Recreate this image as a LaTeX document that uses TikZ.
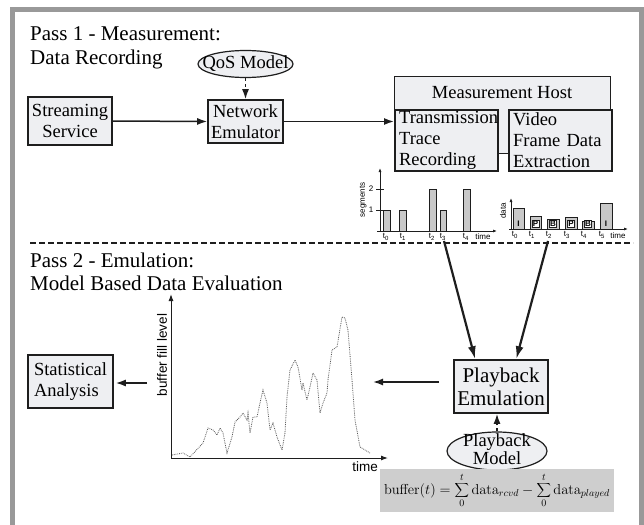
\documentclass[tikz,border=0pt]{standalone}
\usepackage[no-math]{fontspec}
\setmainfont{Liberation Serif}
\setsansfont{Liberation Sans}
\usetikzlibrary{arrows.meta,shapes.geometric,calc}
\definecolor{boxfill}{RGB}{238,239,242}
\definecolor{framegray}{RGB}{153,153,153}
\definecolor{bargray}{RGB}{200,200,200}
\definecolor{fgray}{RGB}{206,206,206}
\definecolor{ink}{RGB}{30,30,30}
\definecolor{curvegray}{RGB}{90,90,90}
\begin{document}
\begin{tikzpicture}[x=1pt,y=-1pt,
  box/.style={draw=ink, line width=1.6pt, fill=boxfill, align=center, inner sep=0pt},
  innerbox/.style={draw=ink, line width=2.2pt, fill=boxfill, align=left, inner xsep=4pt, inner ysep=0pt, text width=95pt, minimum width=103pt, minimum height=61pt, anchor=north west},
  ellbox/.style={ellipse, draw=ink, line width=1.2pt, fill=boxfill, inner sep=0pt},
  arr/.style={-{Latex[length=10pt,width=7pt]}, line width=1.5pt, draw=ink},
  darr/.style={arr, dashed},
  bigarr/.style={-{Latex[length=13pt,width=8pt]}, line width=2.2pt, draw=ink},
  mid/.style={font=\fontsize{18.5}{21}\selectfont},
  big/.style={font=\fontsize{21}{23}\selectfont},
  title/.style={font=\fontsize{21}{24}\selectfont, anchor=base west, inner sep=0pt},
  small/.style={font=\sffamily\fontsize{8}{8}\selectfont, inner sep=0pt},
  axlbl/.style={font=\sffamily\fontsize{13.5}{14}\selectfont, inner sep=0pt},
  bar/.style={draw=ink, line width=0.8pt, fill=bargray},
  axis/.style={draw=ink, line width=0.8pt, -{Latex[length=4pt,width=3pt]}},
  ltr/.style={font=\sffamily\bfseries\fontsize{8}{8}\selectfont, inner sep=0.8pt},
  ltrbox/.style={ltr, draw=ink, line width=0.5pt, fill=white},
]
\useasboundingbox (0,0) rectangle (644,524);
\fill[white] (0,0) rectangle (644,524);
% frame
\draw[framegray, line width=5pt] (12.5,540) -- (12.5,9.5) -- (641.5,9.5) -- (641.5,540);

% titles
\node[title] (t1a) at (30,41) {Pass 1 - Measurement:};
\node[title] (t1b) at (30,65) {Data Recording};
\node[title] (t2a) at (30,267) {Pass 2 - Emulation:};
\node[title] (t2b) at (30,290) {Model Based Data Evaluation};

% pass 1 nodes
\node[box, mid, minimum width=84pt, minimum height=48pt] (ss) at (70,121) {Streaming\\Service};
\node[box, mid, minimum width=75pt, minimum height=43pt] (ne) at (245.5,121.5) {Network\\Emulator};
\node[ellbox, minimum width=95pt, minimum height=27pt] (qos) at (245.5,64) {};
\node[mid, inner sep=0pt] (qost) at (245.5,64) {QoS Model};

\node[draw=ink, line width=0.8pt, fill=boxfill, minimum width=216pt, minimum height=77pt, anchor=north west, inner sep=0pt] (mh) at (394,76) {};
\node[mid, inner sep=0pt] (mhl) at (502,93) {Measurement Host};
\node[innerbox, mid] (tb) at (394,109) {Transmission\\Trace\\Recording};
\node[innerbox, mid] (vb) at (508,109) {Video\\Frame Data\\Extraction};

\draw[arr] (ss.east) -- (ne.west);
\draw[arr] (ne.east) -- (tb.west |- ne.east);
\draw[darr] (qos.south) -- (ne.north);

% segments chart
\draw[axis] (380,231) -- (380,168);
\draw[axis] (377,231) -- (497,231);
\draw[ink, line width=0.8pt] (376,210) -- (384,210) (376,189) -- (384,189);
\node[small] (s1) at (371,210) {1};
\node[small] (s2) at (371,189) {2};
\node[small, rotate=90] (sl) at (363,200) {segments};
\draw[bar] (383,231) rectangle (390,210);
\draw[bar] (399,231) rectangle (406,210);
\draw[bar] (429,231) rectangle (436,189);
\draw[bar] (440,231) rectangle (446,210);
\draw[bar] (463,231) rectangle (470,189);
\node[small] (st0) at (386,237) {t\textsubscript{0}};
\node[small] (st1) at (403,237) {t\textsubscript{1}};
\node[small] (st2) at (432,237) {t\textsubscript{2}};
\node[small] (st3) at (443,237) {t\textsubscript{3}};
\node[small] (st4) at (466,237) {t\textsubscript{4}};
\node[small] (stime) at (483,237) {time};

% data chart
\draw[axis] (511,229) -- (511,198);
\draw[axis] (509,229) -- (628,229);
\node[small, rotate=90] (dl) at (503,211) {data};
\draw[bar] (513,229) rectangle (524,208);
\draw[bar] (530,229) rectangle (541,216);
\draw[bar] (547,229) rectangle (559,219);
\draw[bar] (565,229) rectangle (577,217);
\draw[bar] (582,229) rectangle (594,221);
\draw[bar] (600,229) rectangle (612,203);
\node[ltr] (f0) at (518.5,224) {I};
\node[ltrbox] (f1) at (535.5,224) {P};
\node[ltrbox] (f2) at (553,224) {B};
\node[ltrbox] (f3) at (571,224) {P};
\node[ltrbox] (f4) at (588,224) {B};
\node[ltr] (f5) at (606,224) {I};
\node[small] (dt0) at (515,235) {t\textsubscript{0}};
\node[small] (dt1) at (532,235) {t\textsubscript{1}};
\node[small] (dt2) at (549,235) {t\textsubscript{2}};
\node[small] (dt3) at (567,235) {t\textsubscript{3}};
\node[small] (dt4) at (584,235) {t\textsubscript{4}};
\node[small] (dt5) at (602,235) {t\textsubscript{5}};
\node[small] (dtime) at (618,236) {time};

% separator
\coordinate (sepL) at (30,243);
\coordinate (sepR) at (633,243);
\draw[ink, line width=2.2pt, dash pattern=on 6pt off 3pt] (sepL) -- (sepR);

% pass 2 nodes
\node[box, mid, align=left, minimum width=85pt, minimum height=53pt] (sa) at (70.5,381.5) {Statistical\\Analysis};
\node[box, big, minimum width=94pt, minimum height=53pt] (pe) at (501,386.5) {Playback\\Emulation};
\node[ellbox, minimum width=100pt, minimum height=38pt] (pm) at (497,451) {};
\node[fill=fgray, minimum width=234pt, minimum height=43pt, inner sep=0pt, font=\fontsize{14.4}{16}\selectfont] (fm) at (497,490.5)
  {$\displaystyle \mathrm{buffer}(t)=\sum_0^t \mathrm{data}_{rcvd}-\sum_0^t\mathrm{data}_{played}$};
\node[align=center, inner sep=0pt, font=\fontsize{18.5}{18}\selectfont] (pmt) at (497,449) {Playback\\Model};

% buffer graph
\draw[ink, line width=1pt, -{Latex[length=7pt,width=5pt]}] (171,458) -- (171,294);
\draw[ink, line width=1pt, -{Latex[length=7pt,width=5pt]}] (171,458) -- (388,458);
\node[axlbl, rotate=90] (bfl) at (162,355) {buffer fill level};
\node[axlbl] (gtime) at (365,467) {time};
\draw[curvegray, densely dotted, line width=0.8pt] plot coordinates {
 (172,455) (183,453) (190,457) (203,443) (208,428) (213,430) (217,435) (220,428)
 (223,433) (227,453) (232,437) (235,422) (240,417) (243,413) (247,420) (248,413)
 (250,433) (253,417) (257,417) (260,403) (263,390) (267,403) (270,430) (273,423)
 (277,437) (282,450) (285,433) (287,397) (290,370) (295,360) (298,367) (302,390)
 (303,383) (307,400) (310,387) (313,373) (317,380) (320,413) (323,403) (327,393)
 (328,380) (332,350) (337,347) (342,317) (345,318) (348,330) (352,380) (355,420)
 (360,447) (370,453)};

% connectors pass 2
\coordinate (gra) at (373,382);
\coordinate (grb) at (147,383);
\coordinate (sc) at (444,241);
\coordinate (dc) at (548,241);
\draw[arr, shorten <=14pt] (pe.west |- gra) -- (gra);
\draw[arr, shorten >=2pt] (grb) -- (sa.east |- grb);
\draw[darr] (pm.north) -- (pm.north |- pe.south);
\draw[bigarr] (sc) -- ($(pe.north west)+(22,0)$);
\draw[bigarr] (dc) -- ($(pe.north west)+(63,0)$);
\end{tikzpicture}
\end{document}
